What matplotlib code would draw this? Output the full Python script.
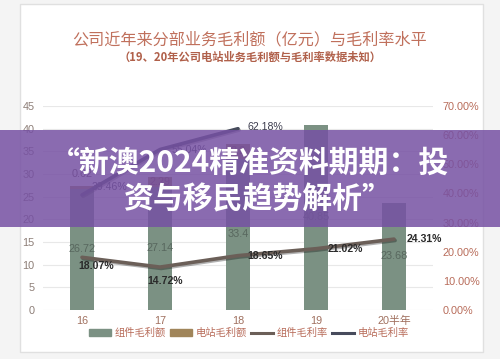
import numpy as np
import matplotlib.pyplot as plt
import matplotlib.patheffects as pe
from matplotlib.patches import Rectangle, Patch
from matplotlib.lines import Line2D
from matplotlib.ticker import FuncFormatter

plt.rcParams['font.family'] = ['Liberation Sans', 'Noto Sans CJK SC']

# data
years = ['16', '17', '18', '19', '20半年']
module_profit = [26.72, 27.14, 33.4, 40.85, 23.68]      # 组件毛利额 (亿元)
station_profit = [0.62, 2.29, 3.2]                      # 电站毛利额, 18 is hidden -> estimate
module_margin = [18.07, 14.72, 18.65, 21.02, 24.31]     # 组件毛利率 (%)
station_margin = [39.46, 55.04, 62.18]                  # 电站毛利率 (%)

title = '公司近年来分部业务毛利额（亿元）与毛利率水平'
subtitle = '（19、20年公司电站业务毛利额与毛利率数据未知）'
banner = ['“新澳2024精准资料期期：投', '资与移民趋势解析”']

c_module = '#7b9183'
c_station = '#a0855a'
c_mline = '#6b5f58'
c_sline = '#474b5c'
c_red = '#b86c5a'

fig = plt.figure(figsize=(5, 3.59), dpi=100)
fig.patch.set_facecolor('#f4f4f4')

# white card behind the chart
fig.patches.append(Rectangle((20 / 500, 1 - 352 / 359), 463 / 500, 348 / 359,
                             transform=fig.transFigure, facecolor='white',
                             edgecolor='#e0e0e0', lw=1, zorder=-1))

ax = fig.add_axes([0.086, 0.1365, 0.78, 0.5685])
ax.set_facecolor('none')
x = np.arange(len(years))

ax.bar(x, module_profit, width=0.3, color=c_module, zorder=2)
ax.bar(x[:len(station_profit)], station_profit, width=0.3,
       bottom=module_profit[:len(station_profit)], color=c_station, zorder=2)

for i, v in enumerate(module_profit):
    ax.text(x[i], v / 2, f'{v}', ha='center', va='center', fontsize=7.8,
            color='#58675e', zorder=4)
for i, v in enumerate(station_profit):
    if v < 1.5:
        ax.annotate(f'{v}', (x[i], module_profit[i] + v), xytext=(0, 5),
                    textcoords='offset points', ha='center', va='bottom',
                    fontsize=7.8, color='#5a4a48', zorder=4)
    else:
        ax.text(x[i], module_profit[i] + v / 2, f'{v}', ha='center', va='center',
                fontsize=7.8, color='#7a3c36', zorder=4)

ax.set_xlim(-0.5, len(years) - 0.5)
ax.set_ylim(0, 45)
ax.set_yticks(np.arange(0, 46, 5))
ax.set_xticks(x)
ax.set_xticklabels(years)
ax.tick_params(axis='y', length=0, pad=6, labelsize=7.8, labelcolor='#8c7d76')
ax.tick_params(axis='x', length=0, pad=4, labelsize=7.8, labelcolor='#a0705f')
ax.yaxis.grid(True, color='#e8e8e8', lw=0.8)
ax.set_axisbelow(True)
for s in ax.spines.values():
    s.set_visible(False)

ax2 = ax.twinx()
ax2.set_ylim(0, 70)
ax2.set_yticks(np.arange(0, 71, 10))
ax2.yaxis.set_major_formatter(FuncFormatter(lambda v, p: f'{v:.2f}%'))
ax2.tick_params(axis='y', length=0, pad=7, labelsize=7.8, labelcolor=c_red)
for s in ax2.spines.values():
    s.set_visible(False)

shadow = [pe.SimpleLineShadow(offset=(0.8, -1), alpha=0.3), pe.Normal()]
ax2.plot(x, module_margin, color=c_mline, lw=2.6, solid_capstyle='round',
         path_effects=shadow, zorder=3)
ax2.plot(x[:len(station_margin)], station_margin, color=c_sline, lw=2.6,
         solid_capstyle='round', path_effects=shadow, zorder=3)

m_offsets = [(10, -6, 'center'), (4, -10, 'center'), (7, 0, 'left'), (8.5, 0, 'left'), (9, 0, 'left')]
for i, v in enumerate(module_margin):
    dx, dy, ha = m_offsets[i]
    ax2.annotate(f'{v:.2f}%', (x[i], v), xytext=(dx, dy), textcoords='offset points',
                 ha=ha, va='center', fontsize=7.6, fontweight='bold', color='#2a2a2a')
s_offsets = [(7, 6), (8.5, 0), (7, 1)]
for i, v in enumerate(station_margin):
    dx, dy = s_offsets[i]
    ax2.annotate(f'{v:.2f}%', (x[i], v), xytext=(dx, dy), textcoords='offset points',
                 ha='left', va='center', fontsize=7.6, color='#3c3c4e')

handles = [Patch(color=c_module), Patch(color=c_station),
           Line2D([], [], color=c_mline, lw=2.2), Line2D([], [], color=c_sline, lw=2.2)]
labels = ['组件毛利额', '电站毛利额', '组件毛利率', '电站毛利率']
fig.legend(handles, labels, loc='center', bbox_to_anchor=(0.498, 1 - 333 / 359), ncol=4,
           frameon=False, fontsize=7.4, handlelength=2.1, handleheight=0.6,
           handletextpad=0.35, columnspacing=0.45, labelcolor=c_red)

fig.text(0.5, 1 - 40 / 359, title, ha='center', va='center', fontsize=11.6,
         color='#c0705c', family=['Noto Sans CJK SC'])
fig.text(0.5, 1 - 57 / 359, subtitle, ha='center', va='center', fontsize=8.1,
         fontweight='bold', color='#b0604a', family=['Noto Sans CJK SC'])

# purple banner over the chart
fig.patches.append(Rectangle((0, 1 - 227 / 359), 1, 97 / 359, transform=fig.transFigure,
                             facecolor='#7651a3', alpha=0.85, zorder=10))
fig.text(250 / 500, 1 - 163 / 359, banner[0], ha='center', va='center', fontsize=21.5,
         fontweight='bold', color='white', family=['Noto Sans CJK SC'], zorder=11)
fig.text(257 / 500, 1 - 199 / 359, banner[1], ha='center', va='center', fontsize=21.5,
         fontweight='bold', color='white', family=['Noto Sans CJK SC'], zorder=11)

fig.savefig('out.png', dpi=100, facecolor=fig.get_facecolor())
